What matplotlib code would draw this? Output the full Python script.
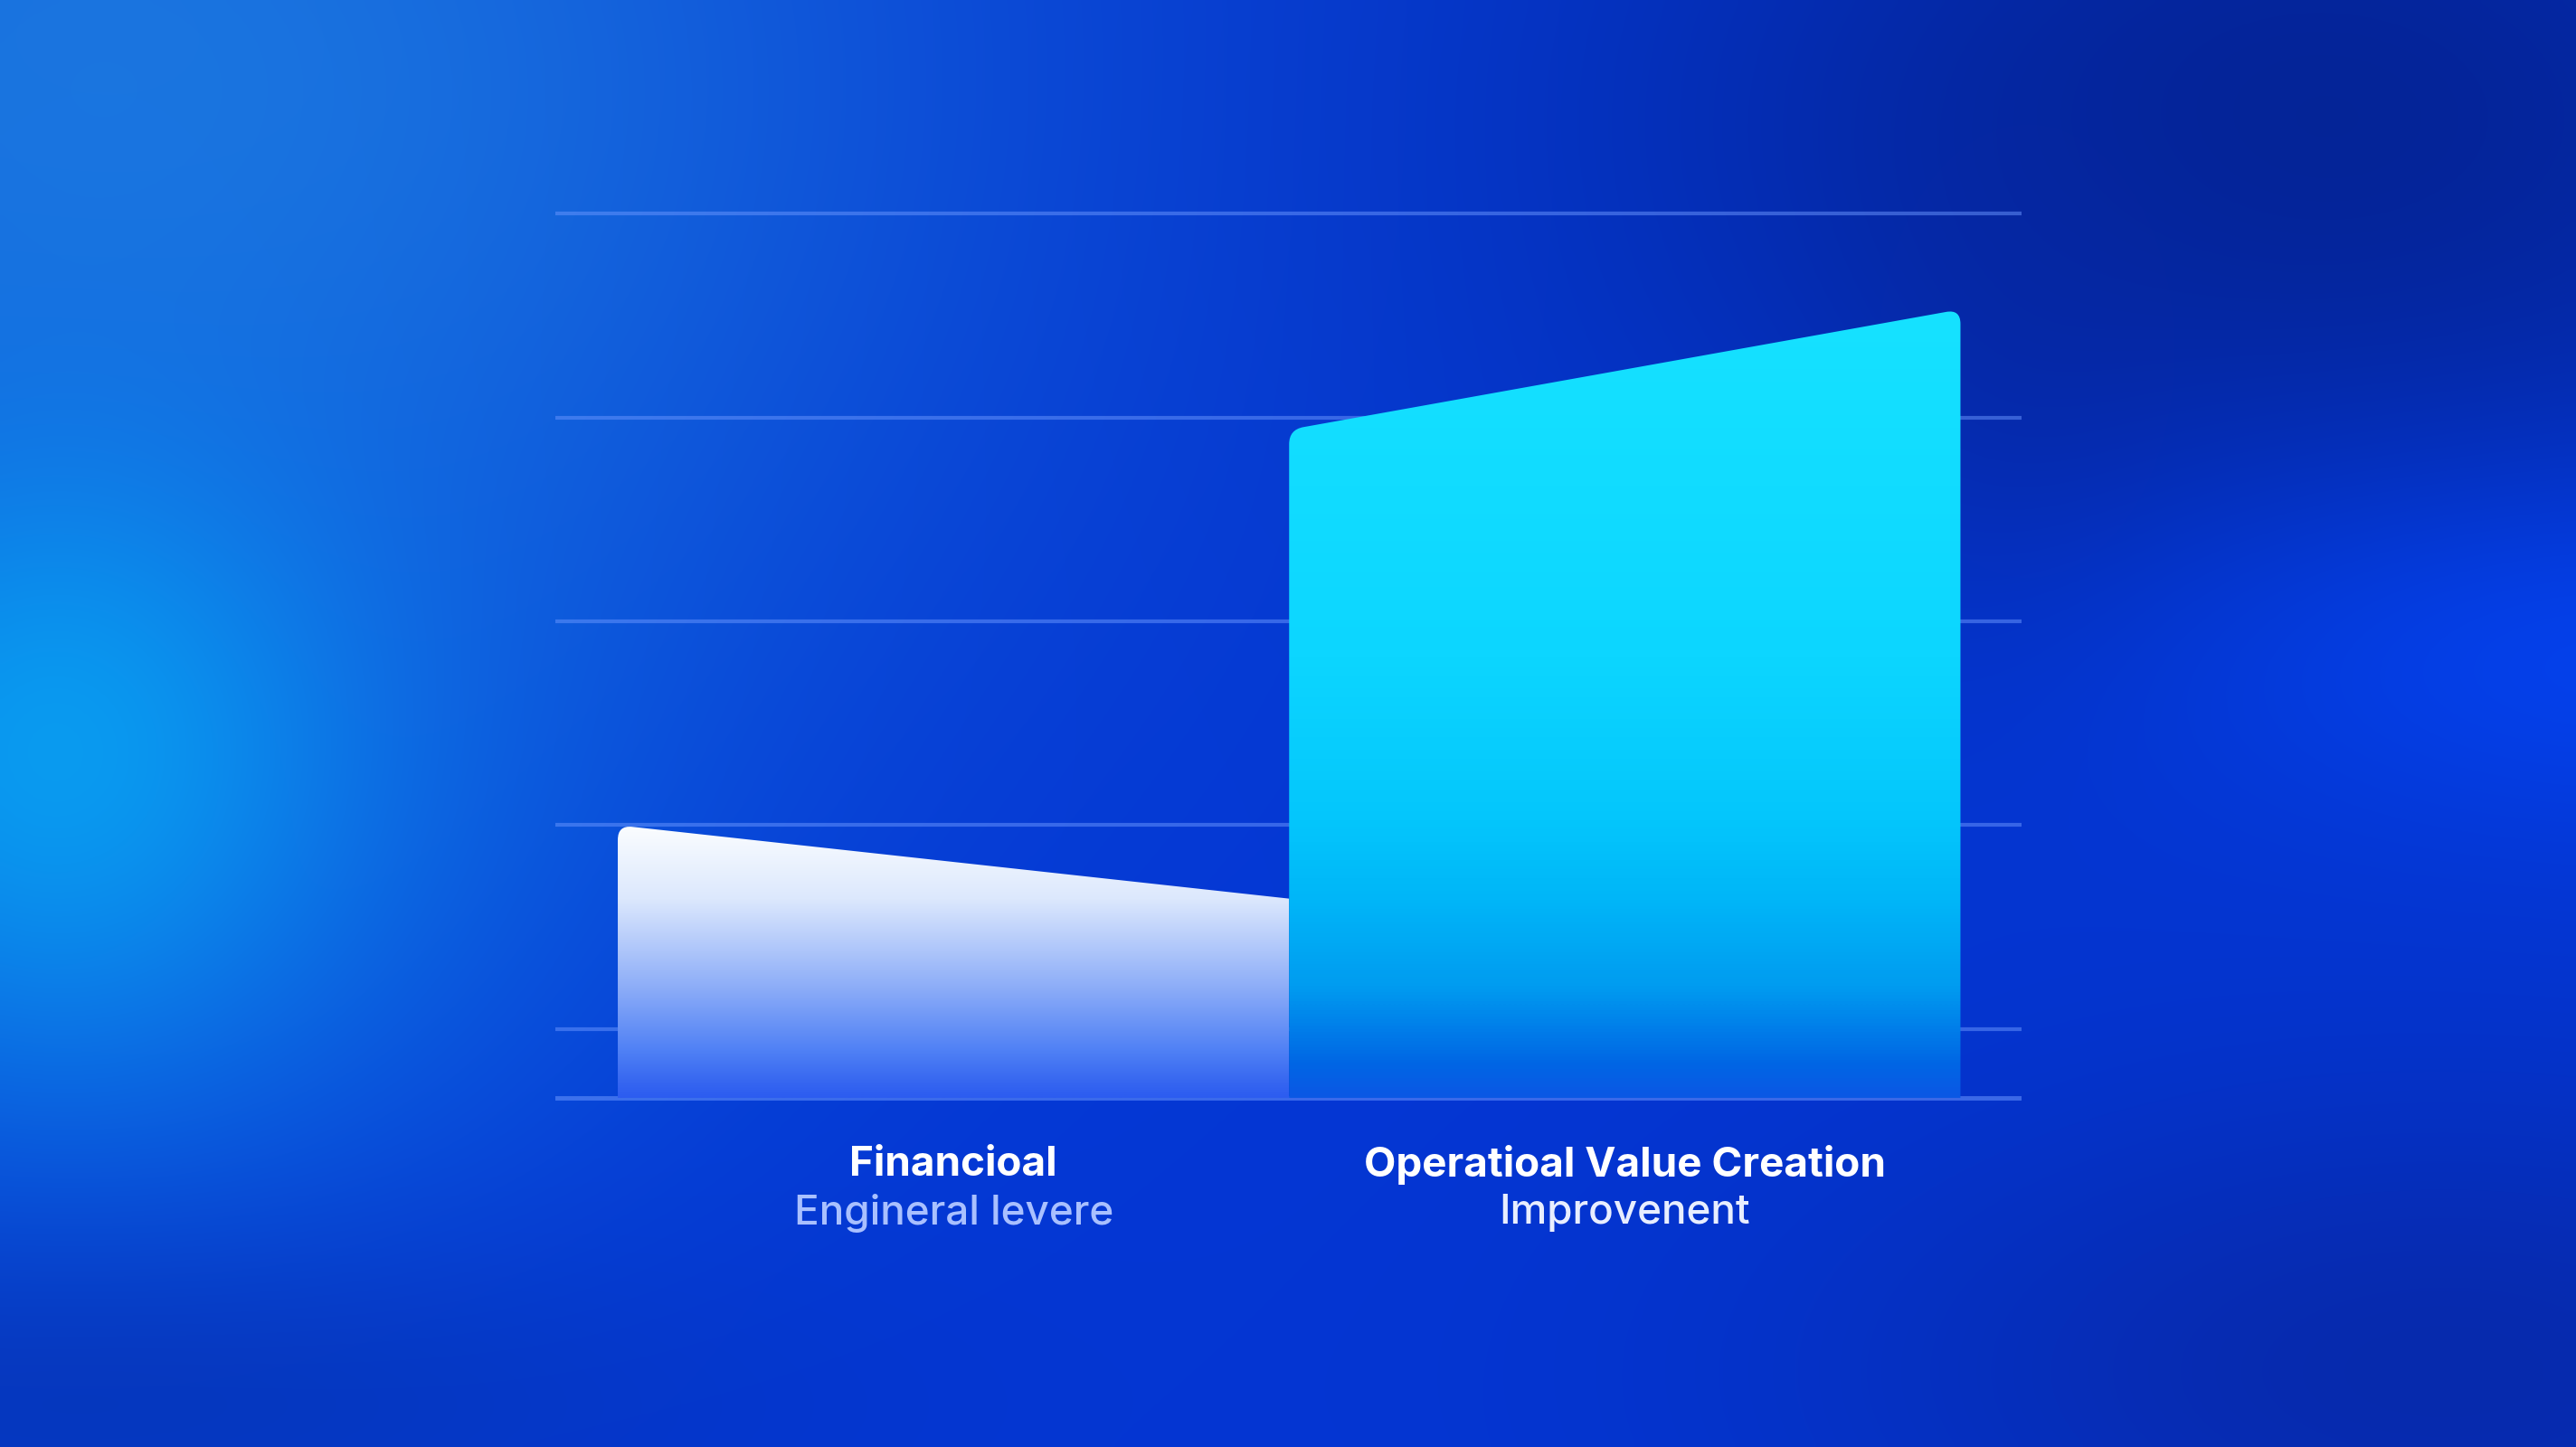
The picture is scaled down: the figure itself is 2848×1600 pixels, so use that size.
import numpy as np
import matplotlib
matplotlib.use('Agg')
import matplotlib.pyplot as plt
from matplotlib.path import Path
from matplotlib.patches import PathPatch
from matplotlib.colors import LinearSegmentedColormap

# data (grid units)
label_top = ['Financioal', 'Operatioal Value Creation']
label_bottom = ['Engineral levere', 'Improvenent']
bar_start = [2.0, 3.94]   # height at the left edge of each bar
bar_end = [1.64, 4.53]    # height at the right edge of each bar
grid_values = [1, 2, 3, 4, 5]
baseline = 0.663

plt.rcParams['font.family'] = ['Inter', 'DejaVu Sans']

W, H = 2848, 1600
fig = plt.figure(figsize=(W / 100, H / 100), dpi=100)

# --- blurred blue backdrop ---
bg = fig.add_axes([0, 0, 1, 1])
bg.set_axis_off()
ny, nx = 225, 400
v, u = np.mgrid[0:1:ny * 1j, 0:1:nx * 1j]
img = np.ones((ny, nx, 3)) * np.array([4, 54, 212]) / 255


def blob(img, cx, cy, sx, sy, col, amp):
    w = amp * np.exp(-((u - cx) ** 2 / (2 * sx ** 2) + (v - cy) ** 2 / (2 * sy ** 2)))
    return img * (1 - w[..., None]) + np.array(col) / 255 * w[..., None]


img = blob(img, 0.04, 0.05, 0.24, 0.32, (28, 120, 224), 0.95)
img = blob(img, 0.03, 0.55, 0.14, 0.22, (16, 122, 232), 0.8)
img = blob(img, 0.02, 0.52, 0.07, 0.13, (8, 162, 242), 0.85)
img = blob(img, 0.03, 0.97, 0.18, 0.08, (6, 50, 175), 0.6)
img = blob(img, 0.90, 0.08, 0.20, 0.22, (4, 34, 145), 0.9)
img = blob(img, 0.79, 0.24, 0.05, 0.14, (8, 38, 160), 0.45)
img = blob(img, 1.02, 0.46, 0.13, 0.09, (5, 66, 238), 0.9)
img = blob(img, 0.95, 0.95, 0.17, 0.14, (8, 38, 160), 0.75)
bg.imshow(img, extent=[0, 1, 0, 1], aspect='auto', interpolation='bicubic', origin='upper')
bg.set_xlim(0, 1)
bg.set_ylim(0, 1)

# --- chart axes ---
ax = fig.add_axes([614 / W, (H - 1250) / H, (2235 - 614) / W, (1250 - 191) / H])
ax.set_xlim(-0.593, 1.591)
ax.set_ylim(0.503, 5.2)
ax.set_axis_off()
ax.patch.set_alpha(0)

for g in grid_values:
    ax.axhline(g, color='#6a96ff', alpha=0.5, lw=3, zorder=1)
ax.axhline(baseline, color='#6a96ff', alpha=0.55, lw=3.5, zorder=1)

cmaps = [
    LinearSegmentedColormap.from_list('lb', [
        (0.0, '#2c5cf0'), (0.05, '#3565f0'), (0.17, '#4f80f5'),
        (0.41, '#8eaef8'), (0.73, '#dce8fd'), (1.0, '#fbfdff')]),
    LinearSegmentedColormap.from_list('rb', [
        (0.0, '#0a58e4'), (0.04, '#0066e4'), (0.14, '#009cf0'),
        (0.25, '#00b6f8'), (0.35, '#04c6fc'), (0.56, '#0cd6ff'), (1.0, '#16e2ff')]),
]


def unit(a, b):
    d = b - a
    return d / np.hypot(*d)


r = 16  # corner radius in pixels
for i in range(len(bar_start)):
    x0, x1 = i - 0.5, i + 0.5
    top = max(bar_start[i], bar_end[i])
    pts = ax.transData.transform([(x0, baseline), (x0, bar_start[i]),
                                  (x1, bar_end[i]), (x1, baseline)])
    p0, p1, p2, p3 = pts
    verts = [p0, p1 + r * unit(p1, p0), p1, p1 + r * unit(p1, p2)]
    codes = [Path.MOVETO, Path.LINETO, Path.CURVE3, Path.CURVE3]
    if i == len(bar_start) - 1:
        verts += [p2 + r * unit(p2, p1), p2, p2 + r * unit(p2, p3)]
        codes += [Path.LINETO, Path.CURVE3, Path.CURVE3]
    else:
        verts += [p2]
        codes += [Path.LINETO]
    verts += [p3, p0]
    codes += [Path.LINETO, Path.CLOSEPOLY]
    verts = ax.transData.inverted().transform(verts)
    patch = PathPatch(Path(verts, codes), facecolor='none', edgecolor='none', zorder=2)
    ax.add_patch(patch)
    grad = np.linspace(1, 0, 256)[:, None]
    im = ax.imshow(grad, cmap=cmaps[i], extent=[x0, x1, baseline, top],
                   aspect='auto', origin='upper', zorder=2, interpolation='bilinear')
    im.set_clip_path(patch)

    ax.annotate(label_top[i], xy=(i, baseline), xytext=(0, -53), textcoords='offset points',
                ha='center', va='center', fontsize=33, fontweight='bold', color='white')
    ax.annotate(label_bottom[i], xy=(i, baseline), xytext=(0, -91.5), textcoords='offset points',
                ha='center', va='center', fontsize=33, fontweight='medium',
                color='#a9c0ff' if i == 0 else '#e8eeff')

ax.set_xlim(-0.593, 1.591)
ax.set_ylim(0.503, 5.2)

fig.savefig('out.png', dpi=100)
